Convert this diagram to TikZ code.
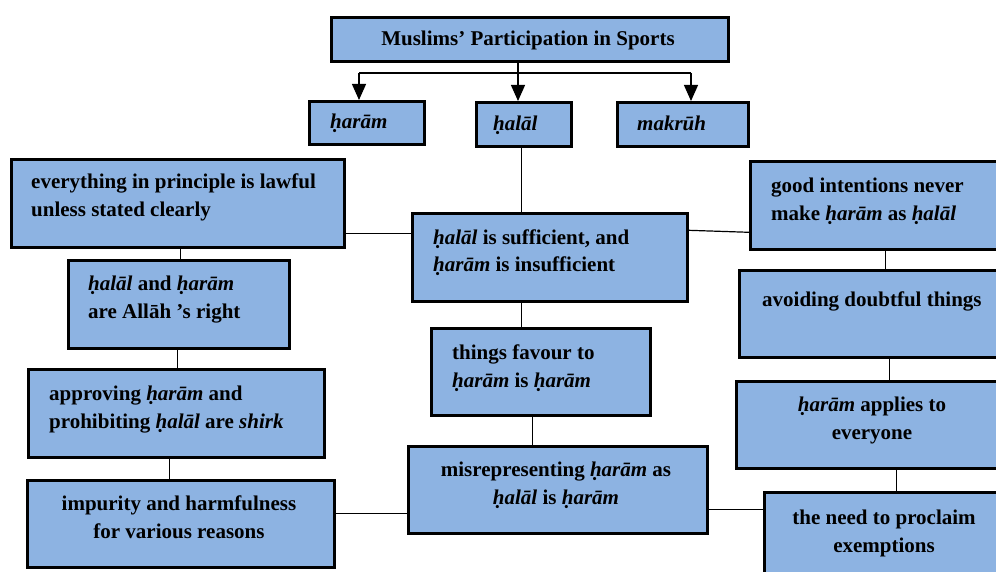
\documentclass[tikz,border=0pt]{standalone}
\usepackage{fontspec}
\setmainfont{Liberation Serif}
\usetikzlibrary{arrows.meta,positioning,calc}
\definecolor{boxblue}{RGB}{141,179,226}

\begin{document}
\begin{tikzpicture}[x=1pt, y=-1pt,
  every node/.style={font=\fontsize{21}{28}\selectfont\bfseries},
  blk/.style={draw=black, line width=2.6pt, fill=boxblue, anchor=north west, inner sep=0pt},
  lbl/.style={inner sep=0pt, anchor=base west, align=left},
  clbl/.style={inner sep=0pt, anchor=base, align=center},
  arr/.style={-{Triangle[length=16pt, width=14pt]}, line width=1.2pt}]
  \useasboundingbox (0,0) rectangle (996,572);
  \clip (0,0) rectangle (996,572);

  % top row
  \node[blk, minimum width=397pt, minimum height=44pt] (title) at (330,16) {};
  \node[blk, minimum width=115pt, minimum height=43pt] (haram) at (308,100) {};
  \node[blk, minimum width=95pt, minimum height=44pt] (halal) at (475,101) {};
  \node[blk, minimum width=131pt, minimum height=44pt] (makruh) at (616,101) {};

  % left column
  \node[blk, minimum width=333pt, minimum height=88pt] (every) at (10,158) {};
  \node[blk, minimum width=221pt, minimum height=88pt] (right) at (67,259) {};
  \node[blk, minimum width=296pt, minimum height=88pt] (shirk) at (27,368) {};
  \node[blk, minimum width=307pt, minimum height=87pt] (impure) at (26,479) {};

  % middle column
  \node[blk, minimum width=275pt, minimum height=88pt] (suff) at (411,212) {};
  \node[blk, minimum width=219pt, minimum height=87pt] (favour) at (430,327) {};
  \node[blk, minimum width=299pt, minimum height=87pt] (misrep) at (407,445) {};

  % right column (runs off the page)
  \node[blk, minimum width=259pt, minimum height=88pt] (intent) at (749,160) {};
  \node[blk, minimum width=270pt, minimum height=87pt] (doubt) at (738,269) {};
  \node[blk, minimum width=273pt, minimum height=87pt] (everyone) at (735,380) {};
  \node[blk, minimum width=245pt, minimum height=90pt] (exempt) at (763,491) {};

  % texts (base = last line)
  \node[clbl] (titleT) at (528,46) {Muslims’ Participation in Sports};
  \node[lbl] (haramT) at (330,129) {\textit{ḥarām}};
  \node[lbl] (halalT) at (493,131) {\textit{ḥalāl}};
  \node[lbl] (makruhT) at (637,131) {\textit{makrūh}};
  \node[lbl] (everyT) at (31,217) {everything in principle is lawful\\unless stated clearly};
  \node[lbl] (rightT) at (88,318) {\textit{ḥalāl} and \textit{ḥarām}\\are Allāh ’s right};
  \node[lbl] (shirkT) at (49,428) {approving \textit{ḥarām} and\\prohibiting \textit{ḥalāl} are \textit{shirk}};
  \node[clbl] (impureT) at (179,538) {impurity and harmfulness\\for various reasons};
  \node[lbl] (suffT) at (433,272) {\textit{ḥalāl} is sufficient, and\\\textit{ḥarām} is insufficient};
  \node[lbl] (favourT) at (452,387) {things favour to\\\textit{ḥarām} is \textit{ḥarām}};
  \node[clbl] (misrepT) at (556,504) {misrepresenting \textit{ḥarām} as\\\textit{ḥalāl} is \textit{ḥarām}};
  \node[lbl] (intentT) at (771,221) {good intentions never\\make \textit{ḥarām} as \textit{ḥalāl}};
  \node[lbl] (doubtT) at (762,306) {avoiding doubtful things};
  \node[clbl] (everyoneT) at (872,439) {\textit{ḥarām} applies to\\everyone};
  \node[clbl] (exemptT) at (884,552) {the need to proclaim\\exemptions};

  % fork under the title
  \coordinate (forkL) at (359,73);
  \coordinate (forkM) at (518,73);
  \coordinate (forkR) at (691,73);
  \draw[line width=1.2pt] (title.south -| forkM) -- (forkM);
  \draw[line width=1.2pt] (forkL) -- (forkR);
  \foreach \f/\t in {forkL/haram, forkM/halal, forkR/makruh}
    \draw[arr] (\f) -- (\f |- \t.north);

  % vertical links
  \foreach \a/\b/\d in {halal/suff/-2.5, every/right/2.5, right/shirk/-1.5, shirk/impure/-7,
                        suff/favour/-28.5, favour/misrep/-8.5,
                        intent/doubt/5.5, doubt/everyone/15, everyone/exempt/23.5}
    \draw[line width=1.2pt] ([xshift=\d pt]\a.south) -- ([xshift=\d pt]\a.south |- \b.north);

  % horizontal links
  \draw[line width=1.2pt] ([yshift=-30pt]every.east) -- ([yshift=-30pt]every.east -| suff.west);
  \draw[line width=1.2pt] ([yshift=27pt]suff.east) -- ([yshift=-27pt]intent.west);
  \draw[line width=1.2pt] ([yshift=10.5pt]impure.east) -- ([yshift=10.5pt]impure.east -| misrep.west);
  \draw[line width=1.2pt] ([yshift=-19.5pt]misrep.east) -- ([yshift=-19.5pt]misrep.east -| exempt.west);
\end{tikzpicture}
\end{document}
